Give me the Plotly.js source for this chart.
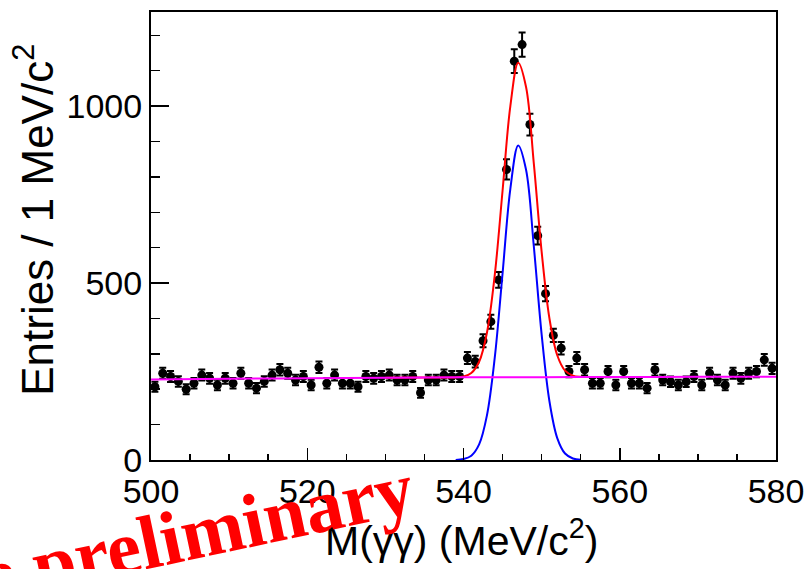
<!DOCTYPE html>
<html>
<head>
<meta charset="utf-8">
<script src="https://cdn.plot.ly/plotly-3.0.1.min.js"></script>
<style>html,body{margin:0;padding:0;background:#fff;}#chart{width:807px;height:569px;}</style>
</head>
<body>
<div id="chart"></div>
<script>
// Bin centres of M(gamma gamma) in MeV/c^2 (1 MeV bins)
const binCenters = [
  500.5,501.5,502.5,503.5,504.5,505.5,506.5,507.5,508.5,509.5,
  510.5,511.5,512.5,513.5,514.5,515.5,516.5,517.5,518.5,519.5,
  520.5,521.5,522.5,523.5,524.5,525.5,526.5,527.5,528.5,529.5,
  530.5,531.5,532.5,533.5,534.5,535.5,536.5,537.5,538.5,539.5,
  540.5,541.5,542.5,543.5,544.5,545.5,546.5,547.5,548.5,549.5,
  550.5,551.5,552.5,553.5,554.5,555.5,556.5,557.5,558.5,559.5,
  560.5,561.5,562.5,563.5,564.5,565.5,566.5,567.5,568.5,569.5,
  570.5,571.5,572.5,573.5,574.5,575.5,576.5,577.5,578.5,579.5
];
// Entries per bin
const entries = [
  207,245,236,222,200,217,240,231,212,231,
  217,245,217,203,222,240,255,245,226,236,
  212,262,217,240,217,217,207,236,231,236,
  240,226,226,236,190,226,226,240,236,236,
  288,278,337,391,509,821,1127,1174,948,634,
  470,352,316,250,288,255,217,217,250,212,
  250,217,217,203,255,226,221,212,221,236,
  212,245,226,212,245,231,245,250,283,259
];
// Background fit (magenta), read at sample masses
const bkgX = [500,510,520,530,540,550,560,570,580];
const bkgY = [227.5,229.5,231,232.5,233.5,234,234.5,235,235.5];
// Signal fit (blue)
const sigX = [539,540,541,542,543,544,545,546,547,548,549,550,551,552,553,554,555];
const sigY = [0,2.7,12.2,44,126,289,527,767,889,821,604,355,166,62,18.4,4.4,0.8];
// Total fit (red)
const totX = [530,535,538,539,540,541,542,543,544,545,546,547,548,549,550,551,552,553,554,555,556,560,565];
const totY = [232.5,233,233.3,233.4,236.2,245.8,277.6,359.7,522.7,760.8,1000.8,1122.9,1054.9,838,589,400,296,252.6,238.6,235,234.3,234.5,234.8];

const xTitle = 'M(γγ) (MeV/c<sup>2</sup>)';
const yTitle = 'Entries / 1 MeV/c<sup>2</sup>';
const stamp = 'e preliminary';

const font = 'Liberation Sans, Arial, Helvetica, sans-serif';

const traces = [
  {x: binCenters, y: entries, type: 'scatter', mode: 'markers',
   marker: {color: '#000', size: 9},
   error_y: {type: 'sqrt', color: '#000', thickness: 2, width: 3.5},
   hoverinfo: 'skip'},
  {x: totX, y: totY, type: 'scatter', mode: 'lines',
   line: {color: '#ff0000', width: 2, shape: 'spline', smoothing: 1}},
  {x: sigX, y: sigY, type: 'scatter', mode: 'lines',
   line: {color: '#0000ff', width: 2, shape: 'spline', smoothing: 1}},
  {x: bkgX, y: bkgY, type: 'scatter', mode: 'lines',
   line: {color: '#ff00ff', width: 2, shape: 'spline', smoothing: 1}}
];

const axisCommon = {
  showline: true, linecolor: '#000', linewidth: 2, mirror: true,
  showgrid: false, zeroline: false,
  ticks: 'inside', tickcolor: '#000', tickwidth: 1.5,
  tickfont: {family: font, size: 34, color: '#000'}
};

const layout = {
  width: 807, height: 569,
  margin: {l: 151, r: 31, t: 12, b: 109, pad: 0},
  paper_bgcolor: '#fff', plot_bgcolor: '#fff',
  showlegend: false,
  xaxis: Object.assign({}, axisCommon, {
    range: [500, 580], tick0: 500, dtick: 20, ticklen: 12,
    minor: {dtick: 5, ticklen: 6, ticks: 'inside', tickcolor: '#000', tickwidth: 1.5}
  }),
  yaxis: Object.assign({}, axisCommon, {
    range: [0, 1266], tick0: 0, dtick: 500, ticklen: 18,
    minor: {dtick: 100, ticklen: 9, ticks: 'inside', tickcolor: '#000', tickwidth: 1.5}
  }),
  annotations: [
    {text: xTitle, xref: 'paper', yref: 'paper', x: 0.497, y: -0.175,
     xanchor: 'center', yanchor: 'middle', showarrow: false,
     font: {family: font, size: 41, color: '#000'}},
    {text: yTitle, xref: 'paper', yref: 'paper', x: -0.188, y: 0.535,
     xanchor: 'center', yanchor: 'middle', showarrow: false, textangle: -90,
     font: {family: font, size: 44, color: '#000'}},
    {text: '<b>' + stamp + '</b>', xref: 'paper', yref: 'paper', x: 0.073, y: -0.160,
     xanchor: 'center', yanchor: 'middle', showarrow: false, textangle: -12,
     font: {family: 'Liberation Serif, Times New Roman, serif', size: 76, color: '#ff0000'}}
  ]
};

Plotly.newPlot('chart', traces, layout, {staticPlot: true, displayModeBar: false});
</script>
</body>
</html>
